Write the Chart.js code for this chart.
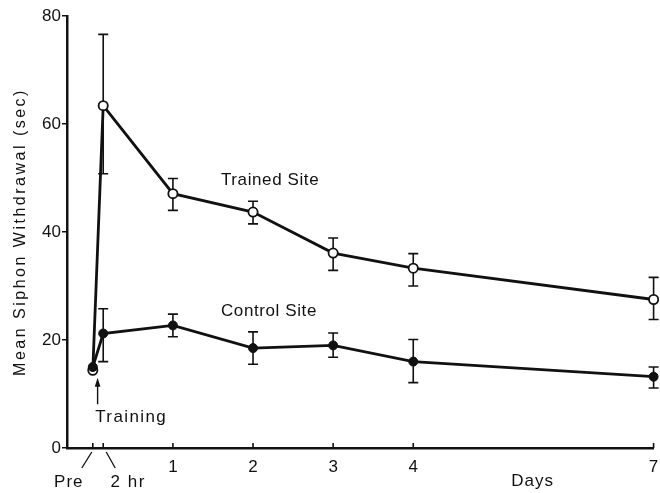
<!DOCTYPE html>
<html>
<head>
<meta charset="utf-8">
<script src="https://cdn.jsdelivr.net/npm/chart.js@4/dist/chart.umd.min.js"></script>
<style>
  html, body { margin: 0; padding: 0; background: #fff; }
  #wrap { width: 660px; height: 493px; }
</style>
</head>
<body>
<div id="wrap"><canvas id="chart" width="660" height="493"></canvas></div>
<script>
// Time points in days; "Pre" and "2 hr" sit just around day 0
const timePoints = [0, 0.13, 1, 2, 3, 4, 7];
const dayTicks = [1, 2, 3, 4, 7];
const yTicks = [0, 20, 40, 60, 80];

// Mean siphon withdrawal (sec) with error-bar limits
const trainedMean = [14.4, 63.4, 47.1, 43.7, 36.1, 33.3, 27.5];
const trainedHigh = [null, 76.6, 49.9, 45.7, 38.9, 36.0, 31.6];
const trainedLow  = [null, 50.8, 44.0, 41.5, 32.9, 30.0, 23.8];

const controlMean = [15.0, 21.2, 22.7, 18.5, 19.0, 16.0, 13.2];
const controlHigh = [null, 25.8, 24.8, 21.5, 21.3, 20.1, 15.0];
const controlLow  = [null, 16.0, 20.6, 15.5, 16.8, 12.1, 11.1];

const FONT = '"Liberation Sans", Arial, Helvetica, sans-serif';
const INK = '#111';

function drawText(ctx, str, x, y, opts = {}) {
  const { align = 'left', size = 17, spacing = 1, baseline = 'middle' } = opts;
  ctx.save();
  ctx.font = size + 'px ' + FONT;
  if ('letterSpacing' in ctx) ctx.letterSpacing = spacing + 'px';
  ctx.textAlign = align;
  ctx.textBaseline = baseline;
  ctx.fillStyle = INK;
  ctx.fillText(str, x, y);
  ctx.restore();
}

const toPoints = (vals) => timePoints.map((t, i) => ({ x: t, y: vals[i] }));

const figureExtras = {
  id: 'figureExtras',
  beforeDatasetsDraw(chart) {
    const { ctx, scales: { x, y } } = chart;
    ctx.save();
    ctx.strokeStyle = INK;
    ctx.lineWidth = 1.6;
    [[trainedHigh, trainedLow], [controlHigh, controlLow]].forEach(([hi, lo]) => {
      timePoints.forEach((t, i) => {
        if (hi[i] == null) return;
        const px = x.getPixelForValue(t);
        const top = y.getPixelForValue(hi[i]);
        const bot = y.getPixelForValue(lo[i]);
        ctx.beginPath();
        ctx.moveTo(px, top); ctx.lineTo(px, bot);
        ctx.moveTo(px - 5, top); ctx.lineTo(px + 5, top);
        ctx.moveTo(px - 5, bot); ctx.lineTo(px + 5, bot);
        ctx.stroke();
      });
    });
    ctx.restore();
  },
  afterDraw(chart) {
    const { ctx, scales: { x, y } } = chart;
    const axisY = y.getPixelForValue(0);
    ctx.save();
    ctx.strokeStyle = INK;
    ctx.fillStyle = INK;

    // inward tick marks on the time axis
    ctx.lineWidth = 1.6;
    timePoints.forEach((t) => {
      const px = x.getPixelForValue(t);
      ctx.beginPath();
      ctx.moveTo(px, axisY);
      ctx.lineTo(px, axisY - 5);
      ctx.stroke();
    });

    // "Pre" and "2 hr" labels with leader strokes
    const preX = x.getPixelForValue(timePoints[0]);
    const hrX = x.getPixelForValue(timePoints[1]);
    ctx.lineWidth = 1.3;
    ctx.beginPath();
    ctx.moveTo(preX - 1, axisY + 4); ctx.lineTo(preX - 11, axisY + 20);
    ctx.moveTo(hrX + 3, axisY + 4); ctx.lineTo(hrX + 12, axisY + 20);
    ctx.stroke();
    drawText(ctx, 'Pre', preX - 24, axisY + 34, { align: 'center' });
    drawText(ctx, '2 hr', hrX + 25, axisY + 34, { align: 'center', spacing: 1.5 });
    drawText(ctx, 'Days', x.getPixelForValue(5.49), axisY + 33, { align: 'center', spacing: 1 });

    // series labels
    drawText(ctx, 'Trained Site', x.getPixelForValue(1.6), y.getPixelForValue(49.6), { spacing: 0.6 });
    drawText(ctx, 'Control Site', x.getPixelForValue(1.6), y.getPixelForValue(25.4), { spacing: 0.6 });

    // training marker
    const ax = x.getPixelForValue(0.06);
    const tip = y.getPixelForValue(13.0);
    const tail = y.getPixelForValue(8.1);
    ctx.lineWidth = 1.4;
    ctx.beginPath();
    ctx.moveTo(ax, tail); ctx.lineTo(ax, tip + 6);
    ctx.stroke();
    ctx.beginPath();
    ctx.moveTo(ax, tip); ctx.lineTo(ax - 2.8, tip + 9); ctx.lineTo(ax + 2.8, tip + 9);
    ctx.closePath(); ctx.fill();
    drawText(ctx, 'Training', x.getPixelForValue(0.03), y.getPixelForValue(5.7), { spacing: 1.4 });

    // y-axis title
    ctx.save();
    ctx.translate(25, (y.top + y.bottom) / 2);
    ctx.rotate(-Math.PI / 2);
    drawText(ctx, 'Mean Siphon Withdrawal (sec)', 0, 0, { align: 'center', baseline: 'alphabetic', size: 16, spacing: 2.5 });
    ctx.restore();

    ctx.restore();
  }
};

new Chart(document.getElementById('chart'), {
  type: 'line',
  data: {
    datasets: [
      {
        label: 'Control Site',
        data: toPoints(controlMean),
        borderColor: INK,
        borderWidth: 2.8,
        pointStyle: 'circle',
        pointRadius: 4.5,
        pointBackgroundColor: INK,
        pointBorderColor: INK,
        pointBorderWidth: 1,
        tension: 0,
        clip: false
      },
      {
        label: 'Trained Site',
        data: toPoints(trainedMean),
        borderColor: INK,
        borderWidth: 2.8,
        pointStyle: 'circle',
        pointRadius: 4.6,
        pointBackgroundColor: '#fff',
        pointBorderColor: INK,
        pointBorderWidth: 1.8,
        tension: 0,
        clip: false
      }
    ]
  },
  options: {
    responsive: false,
    animation: false,
    events: [],
    layout: { padding: { top: 16, right: 6, left: 0, bottom: 0 } },
    plugins: { legend: { display: false }, tooltip: { enabled: false } },
    scales: {
      x: {
        type: 'linear',
        min: -0.322,
        max: 7,
        afterFit(scale) {
          scale.height = 45;
          scale.paddingLeft = 0;
          scale.paddingRight = 0;
        },
        afterBuildTicks(scale) { scale.ticks = dayTicks.map((v) => ({ value: v })); },
        grid: { display: false, drawTicks: false },
        border: { display: true, color: INK, width: 2.5 },
        ticks: {
          color: INK,
          padding: 9,
          autoSkip: false,
          maxRotation: 0,
          font: { family: FONT, size: 17 },
          callback: (v) => String(v)
        }
      },
      y: {
        min: 0,
        max: 80,
        afterFit(scale) {
          scale.width = 67;
          scale.paddingTop = 0;
          scale.paddingBottom = 0;
        },
        afterBuildTicks(scale) { scale.ticks = yTicks.map((v) => ({ value: v })); },
        grid: { display: true, drawOnChartArea: false, drawTicks: true, tickLength: 5, color: INK, lineWidth: 1.5 },
        border: { display: true, color: INK, width: 2.5 },
        ticks: {
          color: INK,
          padding: 1,
          font: { family: FONT, size: 17 },
          callback: (v) => String(v)
        }
      }
    }
  },
  plugins: [figureExtras]
});
</script>
</body>
</html>
